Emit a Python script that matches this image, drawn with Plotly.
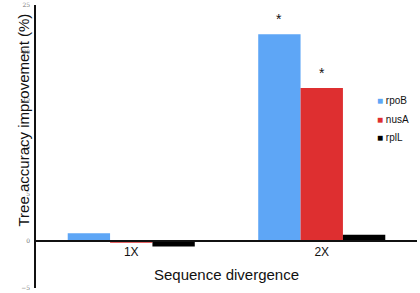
import plotly.graph_objects as go

categories = ["1X", "2X"]
series_names = ["rpoB", "nusA", "rplL"]
rpoB = [0.8, 21.9]
nusA = [-0.2, 16.2]
rplL = [-0.6, 0.65]
colors = ["#5ea6f6", "#de2f30", "#000000"]
sig_marks = [("rpoB", "2X"), ("nusA", "2X")]

values = {"rpoB": rpoB, "nusA": nusA, "rplL": rplL}

W, H = 420, 293
ML, MR, MT, MB = 36, 3, 5, 5
PW, PH = W - ML - MR, H - MT - MB


def px_x(x):
    return (x - ML) / PW


def px_y(y):
    return (H - MB - y) / PH


FONT = "Liberation Sans, Arial"

fig = go.Figure()
for name, col in zip(series_names, colors):
    fig.add_trace(go.Bar(x=categories, y=values[name], name=name, showlegend=False,
                         marker=dict(color=col, line=dict(width=0))))

bar_w = (1 - 0.333) / 3
for name, cat in sig_marks:
    i = series_names.index(name)
    ci = categories.index(cat)
    xpos = ci + (i - 1) * bar_w
    fig.add_annotation(x=xpos, y=values[name][ci] + 1.6, xref="x", yref="y",
                       text="*", showarrow=False,
                       font=dict(family=FONT, size=14, color="#111"))

# legend entries
for k, (name, col) in enumerate(zip(series_names, colors)):
    fig.add_annotation(x=px_x(375), y=px_y(101 + 18 * k), xref="paper", yref="paper",
                       xanchor="left", yanchor="middle", showarrow=False,
                       text=f'<span style="color:{col}">■</span> {name}',
                       font=dict(family=FONT, size=10, color="#111"))

fig.add_annotation(x=px_x(12), y=px_y(120), xref="paper", yref="paper",
                   text="Tree accuracy improvement (%)",
                   textangle=-90, showarrow=False,
                   font=dict(family=FONT, size=15, color="#111"))

fig.update_layout(
    width=W, height=H,
    margin=dict(l=ML, r=MR, t=MT, b=MB),
    plot_bgcolor="white", paper_bgcolor="white",
    barmode="group", bargap=0.333, bargroupgap=0,
    showlegend=False,
    xaxis=dict(range=[-0.5, 1.5], anchor="free", position=1/6, automargin=False,
               showline=True, linecolor="#111", linewidth=1.5,
               ticks="", tickfont=dict(family=FONT, size=12, color="#111"),
               title=dict(text="Sequence divergence", standoff=11,
                          font=dict(family=FONT, size=15, color="#111")),
               showgrid=False, zeroline=False),
    yaxis=dict(range=[-5, 25], dtick=5, showline=True, linecolor="#111", linewidth=1.5,
               automargin=False,
               ticks="", tickfont=dict(family="DejaVu Serif", size=6, color="#777"),
               showgrid=False, zeroline=False, ticklabelstandoff=3),
)

fig.write_html("out.html", config={"displayModeBar": False},
               post_script="document.body.style.margin='0';document.body.style.overflow='hidden';")
